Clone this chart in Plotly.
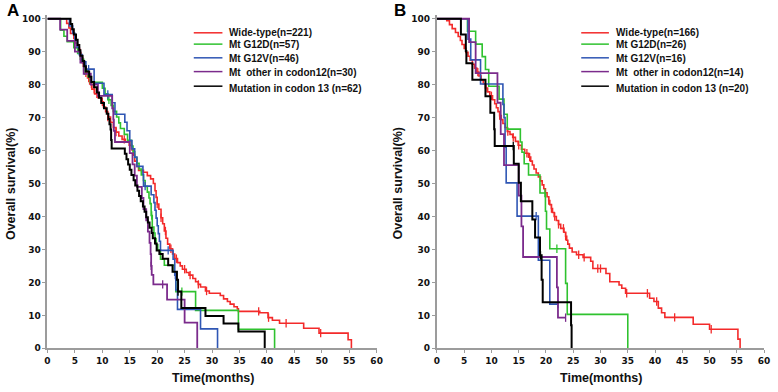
import plotly.graph_objects as go

# ---------------- DATA ----------------
# Panel A  (step times in months, survival % after the step)
A_red_t = [3.5, 3.9, 4.2, 4.8, 5.1, 5.4, 5.8, 6.1, 6.4, 6.7, 7.0, 7.3, 7.7, 8.1, 8.6, 9.2, 9.8, 10.2, 10.6, 11.0,
           11.5, 12.0, 12.5, 13.0, 13.6, 14.2, 14.9, 15.4, 15.7, 15.9, 16.3, 16.6, 17.5, 18.2, 18.8, 19.3, 19.6, 19.8,
           20.0, 20.3, 20.7, 21.0, 21.3, 21.6, 21.9, 22.3, 22.8, 23.2, 23.7, 24.2, 24.6, 25.3, 25.8, 26.5, 27.0, 27.5,
           27.9, 28.8, 29.5, 31.5, 32.1, 32.8, 33.3, 34.0, 34.6, 34.8, 38.7, 40.2, 41.0, 42.3, 46.7, 49.5, 54.8, 55.4]
A_red_s = [98.6, 97.2, 95.5, 94.0, 92.6, 91.2, 89.6, 88.2, 86.6, 85.2, 83.6, 82.0, 80.2, 78.6, 77.2, 76.0, 74.8, 73.2,
           71.8, 70.2, 68.6, 67.0, 65.6, 64.4, 63.4, 62.6, 61.6, 60.2, 58.6, 56.8, 55.2, 54.0, 53.4, 52.4, 51.4, 50.0,
           47.8, 45.8, 43.8, 42.2, 39.6, 37.8, 35.6, 33.4, 31.6, 30.2, 28.6, 27.2, 26.0, 25.0, 24.0, 23.0, 22.2, 21.2,
           20.2, 19.4, 18.6, 17.4, 16.7, 16.0, 15.0, 14.2, 13.4, 12.6, 12.0, 11.2, 10.8, 9.3, 8.5, 7.6, 6.1, 4.6, 2.6, 0]
A_green_t = [2.4, 3.0, 3.6, 4.8, 5.5, 6.0, 6.6, 7.4, 7.8, 10.0, 10.5, 11.0, 11.6, 12.0, 12.6, 13.0, 13.3, 14.0, 14.6,
             15.3, 15.6, 15.9, 16.3, 16.7, 17.1, 17.5, 17.8, 18.2, 18.5, 18.7, 18.9, 19.1, 19.4, 19.6, 19.8, 20.1,
             20.6, 21.3, 23.1, 23.4, 27.0, 34.8, 41.4]
A_green_s = [96.5, 94.7, 93.0, 91.2, 89.5, 87.7, 84.2, 82.4, 80.7, 78.9, 77.2, 75.4, 73.7, 71.9, 70.2, 68.4, 66.7, 64.9,
             63.1, 61.4, 59.6, 57.9, 56.1, 54.4, 52.6, 50.9, 49.1, 47.4, 45.6, 43.9, 40.3, 36.8, 35.0, 33.3, 31.5, 29.8,
             27.0, 25.2, 23.2, 17.2, 11.5, 5.8, 0]
A_blue_t = [4.0, 4.6, 5.0, 5.4, 5.8, 6.3, 7.0, 8.5, 10.3, 11.8, 12.3, 14.1, 14.5, 15.0, 15.4, 15.9, 16.3, 17.4, 17.5,
            18.9, 19.4, 19.6, 19.8, 20.0, 20.2, 20.4, 20.6, 22.9, 23.2, 23.4, 23.7, 27.9, 31.0]
A_blue_s = [97.8, 95.6, 93.4, 91.3, 89.1, 86.9, 84.7, 80.4, 77.0, 74.5, 71.0, 68.6, 66.0, 63.0, 60.5, 58.0, 55.2, 52.8,
            49.2, 46.6, 44.2, 41.9, 39.5, 37.2, 34.8, 32.5, 29.7, 27.0, 22.2, 17.7, 11.8, 5.9, 0]
A_purple_t = [2.3, 3.6, 5.0, 6.0, 6.6, 7.9, 9.2, 11.8, 12.0, 12.1, 12.3, 15.0, 15.5, 15.9, 16.3, 17.2, 17.5, 18.0, 18.3,
              18.6, 18.8, 18.9, 19.0, 19.3, 21.8, 25.0, 27.3]
A_purple_s = [96.7, 93.3, 90.0, 86.7, 83.3, 80.0, 76.6, 72.8, 69.4, 66.0, 62.6, 59.2, 55.8, 52.4, 49.0, 45.6, 42.2, 38.8,
              35.4, 32.0, 28.6, 25.0, 22.3, 19.4, 14.8, 7.8, 0]
A_black_t = [4.2, 4.5, 4.8, 5.2, 5.5, 5.8, 6.0, 6.4, 6.7, 7.0, 7.6, 8.0, 8.5, 9.0, 9.4, 9.8, 10.3, 10.8, 11.1, 11.3,
             11.5, 11.6, 11.7, 14.1, 14.4, 14.7, 15.0, 15.3, 15.7, 16.0, 16.4, 16.7, 17.0, 17.4, 17.7, 18.0, 18.3, 18.6,
             19.0, 19.2, 19.6, 19.9, 20.4, 21.0, 22.0, 22.8, 23.6, 23.8, 24.4, 28.8, 32.1, 34.8, 39.6]
A_black_s = [98.4, 96.8, 95.2, 93.6, 92.0, 90.4, 88.8, 87.2, 85.6, 84.0, 82.4, 80.8, 79.2, 77.6, 76.0, 74.4, 72.8, 71.2,
             69.6, 68.0, 66.4, 63.2, 60.6, 59.0, 57.4, 55.8, 54.2, 52.6, 51.0, 49.4, 47.8, 46.2, 44.6, 43.0, 41.4, 39.8,
             38.2, 36.6, 35.0, 33.4, 31.8, 29.7, 28.6, 27.2, 25.2, 23.2, 20.8, 17.2, 12.2, 9.8, 7.5, 5.1, 0]

A_red_cens = [5.5, 6.0, 6.5, 7.0, 7.5, 8.0, 8.5, 9.0, 10.0, 11.0, 12.5, 14.0, 15.0, 20.0, 20.7, 21.5, 22.5, 23.5, 25.0,
              26.0, 27.5, 29.0, 38.5, 40.3, 43.5, 49.8]
A_green_cens = [6.8, 11.2, 19.0, 24.5]
A_blue_cens = [7.5, 11.0, 17.8, 22.0, 23.3]
A_purple_cens = [18.9, 21.0]
A_black_cens = [23.8]

# Panel B
B_red_t = [1.8, 2.3, 2.8, 3.4, 3.9, 4.3, 4.6, 5.0, 5.3, 5.7, 6.1, 6.5, 6.9, 7.3, 7.7, 8.1, 8.5, 8.9, 9.3, 9.7, 10.2,
           10.6, 10.9, 11.2, 11.5, 11.8, 12.1, 12.5, 12.9, 13.4, 13.9, 14.4, 14.9, 15.5, 16.1, 16.8, 17.2, 17.5, 17.8,
           18.2, 18.6, 19.0, 19.3, 19.6, 19.9, 20.2, 20.5, 20.7, 21.0, 21.2, 21.5, 21.9, 22.3, 22.7, 23.3, 23.6, 23.8,
           24.0, 24.3, 24.8, 25.6, 26.8, 28.2, 28.6, 31.0, 31.7, 33.4, 33.9, 34.6, 39.0, 39.8, 40.6, 41.2, 41.8, 47.0,
           50.0, 55.2, 55.6]
B_red_s = [99.4, 98.2, 97.0, 95.8, 94.6, 93.4, 92.2, 91.0, 89.8, 88.6, 87.4, 86.2, 85.0, 83.8, 82.6, 81.4, 80.2, 79.0,
           77.8, 76.6, 75.4, 74.2, 73.0, 71.8, 70.6, 69.4, 68.2, 67.0, 65.8, 64.9, 64.0, 62.8, 61.6, 60.4, 59.2, 58.0,
           56.8, 55.6, 54.4, 53.2, 52.0, 50.8, 49.6, 48.4, 47.2, 46.0, 44.8, 43.6, 42.4, 41.2, 40.0, 38.8, 37.6, 36.4,
           35.2, 34.0, 32.8, 31.6, 30.4, 29.2, 28.4, 27.6, 26.4, 24.2, 22.7, 20.2, 19.2, 18.2, 16.7, 15.2, 14.2, 12.2,
           10.8, 9.4, 7.3, 5.8, 2.8, 0]
B_green_t = [5.6, 7.1, 8.3, 8.9, 9.5, 11.4, 12.3, 12.9, 15.3, 15.6, 16.0, 16.8, 18.9, 19.9, 20.1, 20.7, 23.6, 23.9, 35.0]
B_green_s = [96.2, 92.3, 88.5, 84.6, 79.5, 75.6, 71.0, 66.5, 62.6, 59.5, 56.0, 52.6, 47.1, 41.6, 36.2, 30.2, 19.7, 10.3, 0]
B_blue_t = [5.7, 6.2, 8.0, 12.1, 12.3, 12.5, 12.7, 14.7, 18.6, 20.7, 22.2]
B_blue_s = [93.8, 87.5, 80.2, 74.0, 70.0, 61.0, 50.2, 40.1, 26.7, 13.4, 13.4]
B_purple_t = [5.9, 7.1, 11.1, 11.7, 12.3, 15.0, 15.5, 15.8, 22.0, 22.2, 23.6]
B_purple_s = [92.9, 83.5, 74.5, 65.0, 55.6, 46.3, 37.0, 27.7, 18.5, 9.3, 9.3]
B_black_t = [4.4, 5.3, 5.4, 6.5, 8.9, 9.8, 10.5, 10.6, 14.1, 15.0, 15.4, 17.5, 18.0, 18.9, 19.2, 19.4, 24.6, 24.7]
B_black_s = [95.2, 90.2, 86.5, 81.5, 76.5, 71.5, 66.5, 61.4, 56.0, 50.2, 44.6, 39.1, 33.6, 28.2, 20.8, 14.0, 7.0, 0]

B_red_cens = [7.5, 8.0, 9.0, 10.0, 11.5, 13.0, 14.0, 15.0, 16.5, 17.0, 20.5, 21.0, 21.6, 22.3, 23.2, 23.6, 26.0, 27.0,
              29.5, 30.0, 34.8, 38.6, 40.3, 43.6, 50.3]
B_green_cens = [19.8, 22.0]
B_blue_cens = [18.2, 22.2]
B_purple_cens = [23.6]
B_black_cens = [14.0, 19.0]

A_labels = ["Wide-type(n=221)", "Mt G12D(n=57)", "Mt G12V(n=46)", "Mt\u00a0 other in codon12(n=30)",
            "Mutation in codon 13 (n=62)"]
B_labels = ["Wide-type(n=166)", "Mt G12D(n=26)", "Mt G12V(n=16)", "Mt\u00a0 other in codon12(n=14)",
            "Mutation in codon 13 (n=20)"]
x_ticks = [0, 5, 10, 15, 20, 25, 30, 35, 40, 45, 50, 55, 60]
y_ticks = [0, 10, 20, 30, 40, 50, 60, 70, 80, 90, 100]

colors = ["#f32a2a", "#2fc22f", "#2f56b4", "#7b2b8c", "#000000"]
widths = [1.6, 1.6, 1.6, 1.8, 2.0]

W, H = 778, 392


def px(x):
    return x / W


def py(y):
    return 1 - y / H


def surv_at(ts, ss, t):
    v = 100
    for ti, si in zip(ts, ss):
        if ti <= t:
            v = si
    return v


fig = go.Figure()

panels = [
    ("x", "y", [(A_red_t, A_red_s, A_red_cens), (A_green_t, A_green_s, A_green_cens),
                (A_blue_t, A_blue_s, A_blue_cens), (A_purple_t, A_purple_s, A_purple_cens),
                (A_black_t, A_black_s, A_black_cens)], A_labels),
    ("x2", "y2", [(B_red_t, B_red_s, B_red_cens), (B_green_t, B_green_s, B_green_cens),
                  (B_blue_t, B_blue_s, B_blue_cens), (B_purple_t, B_purple_s, B_purple_cens),
                  (B_black_t, B_black_s, B_black_cens)], B_labels),
]

for xa, ya, series, labels in panels:
    for i, (ts, ss, cens) in enumerate(series):
        fig.add_trace(go.Scatter(x=[0] + ts, y=[100] + ss, mode="lines", line_shape="hv",
                                 line=dict(color=colors[i], width=widths[i]), xaxis=xa, yaxis=ya,
                                 showlegend=False, hoverinfo="skip"))
        fig.add_trace(go.Scatter(x=cens, y=[surv_at(ts, ss, c) for c in cens], mode="markers",
                                 marker=dict(symbol="line-ns", size=6, line=dict(color=colors[i], width=1.3)),
                                 xaxis=xa, yaxis=ya, showlegend=False, hoverinfo="skip", cliponaxis=False))

tick_font = dict(family="DejaVu Sans", size=9, color="#111", weight="bold")
axis_common = dict(range=[0, 60], tickvals=x_ticks, showline=True, linecolor="#9c9c9c", linewidth=2,
                   ticks="outside", ticklen=3, tickcolor="#9c9c9c", tickwidth=1, showgrid=False, zeroline=False,
                   tickfont=tick_font, fixedrange=True)
yaxis_common = dict(range=[0, 101], tickvals=y_ticks, showline=True, linecolor="#9c9c9c", linewidth=2,
                    ticks="outside", ticklen=3, tickcolor="#9c9c9c", tickwidth=1, showgrid=False, zeroline=False,
                    tickfont=tick_font, fixedrange=True)

ydom = [1 - 352.7 / H, 1 - 14.65 / H]
fig.update_layout(
    width=W, height=H, margin=dict(l=0, r=0, t=0, b=0), plot_bgcolor="white", paper_bgcolor="white",
    xaxis=dict(domain=[px(45), px(378)], anchor="y", **axis_common),
    yaxis=dict(domain=ydom, anchor="x", **yaxis_common),
    xaxis2=dict(domain=[px(439), px(770)], anchor="y2", **axis_common),
    yaxis2=dict(domain=ydom, anchor="x2", **yaxis_common),
    showlegend=False,
)

shapes = []
annotations = []
bold = dict(family="Liberation Sans, Arial", size=10, color="#111")
line_rows = [32.3, 43.8, 57.7, 71.7, 86.5]
text_rows = [32.3, 44.3, 58.3, 72.7, 89.2]
for x0, x1, xt, labels in [(193, 222, 227, A_labels), (585, 613, 618, B_labels)]:
    for i, lab in enumerate(labels):
        shapes.append(dict(type="line", xref="paper", yref="paper", x0=px(x0), x1=px(x1),
                           y0=py(line_rows[i]), y1=py(line_rows[i]), line=dict(color=colors[i], width=1.5)))
        annotations.append(dict(xref="paper", yref="paper", x=px(xt), y=py(text_rows[i]), text="<b>%s</b>" % lab,
                                showarrow=False, xanchor="left", yanchor="middle", font=bold))

title_font = dict(family="Liberation Sans, Arial", size=12.5, color="#111")
for cx in [212, 605]:
    annotations.append(dict(xref="paper", yref="paper", x=px(cx), y=py(383), text="<b>Time(months)</b>",
                            showarrow=False, xanchor="center", yanchor="middle", font=title_font))
for cx in [8, 400]:
    annotations.append(dict(xref="paper", yref="paper", x=px(cx), y=py(185), text="<b>Overall survival(%)</b>",
                            showarrow=False, xanchor="center", yanchor="middle", textangle=-90, font=title_font))
for cx, letter in [(10, "A"), (402, "B")]:
    annotations.append(dict(xref="paper", yref="paper", x=px(cx), y=py(10), text="<b>%s</b>" % letter,
                            showarrow=False, xanchor="center", yanchor="middle",
                            font=dict(family="Liberation Sans, Arial", size=17, color="#000")))

fig.update_layout(shapes=shapes, annotations=annotations)
fig.write_html("out.html", config=dict(displayModeBar=False),
               post_script="document.body.style.margin='0';document.body.style.overflow='hidden';")
